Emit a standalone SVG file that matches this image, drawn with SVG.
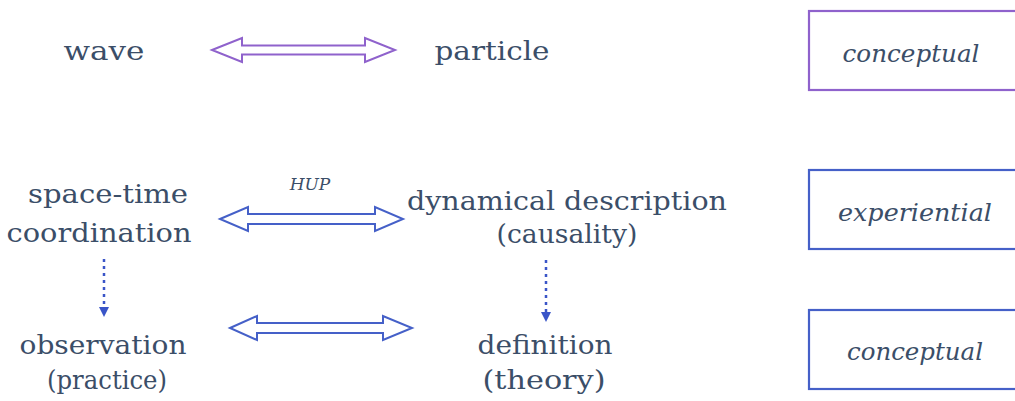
<svg xmlns="http://www.w3.org/2000/svg" width="1015" height="401" viewBox="0 0 1015 401">
<defs>
<style>
.t{font-family:"DejaVu Serif","Liberation Serif",serif;font-size:26px;fill:#3b4e68;text-anchor:middle}
.i{font-family:"DejaVu Serif","Liberation Serif",serif;font-style:italic;font-size:24px;fill:#3b4e68;text-anchor:middle}
.box{fill:#fff;stroke-width:2.2}
.dbl{fill:#fff;stroke-width:2;stroke-linejoin:miter}
.dot{stroke:#3a55c8;stroke-width:2.5;stroke-dasharray:3,4;fill:none}
.pur{stroke:#8f62cc}
.blu{stroke:#4560c8}
</style>
<marker id="ah" markerWidth="10" markerHeight="10" refX="5" refY="5" orient="auto" markerUnits="userSpaceOnUse">
<path d="M0,0 L10,5 L0,10 Z" fill="#3a55c8"/>
</marker>
</defs>
<rect width="1015" height="401" fill="#fff"/>
<g id="connectors">
<path class="dbl pur" d="M212,50 L242,38 L242,45.5 L365,45.5 L365,38 L395,50 L365,62 L365,54.5 L242,54.5 L242,62 Z"/>
<path class="dbl blu" d="M220,219 L248,207 L248,214 L375,214 L375,207 L403,219 L375,231 L375,224 L248,224 L248,231 Z"/>
<path class="dbl blu" d="M230,328 L257,316 L257,323 L383,323 L383,316 L412,328 L383,340 L383,333 L257,333 L257,340 Z"/>
<line class="dot" x1="104" y1="259" x2="104" y2="312" marker-end="url(#ah)"/>
<line class="dot" x1="546" y1="260" x2="546" y2="317" marker-end="url(#ah)"/>
<text class="i" x="310" y="190" style="font-size:17px">HUP</text>
</g>
<g id="wave"><text class="t" x="104" y="60" textLength="81" lengthAdjust="spacingAndGlyphs">wave</text></g>
<g id="particle"><text class="t" x="492" y="60" textLength="115" lengthAdjust="spacingAndGlyphs">particle</text></g>
<g id="spacetime">
<text class="t" x="108" y="203" textLength="160" lengthAdjust="spacingAndGlyphs">space-time</text>
<text class="t" x="99" y="242" textLength="185" lengthAdjust="spacingAndGlyphs">coordination</text>
</g>
<g id="dynamical">
<text class="t" x="567" y="210" textLength="320" lengthAdjust="spacingAndGlyphs">dynamical description</text>
<text class="t" x="567" y="243" textLength="141" lengthAdjust="spacingAndGlyphs">(causality)</text>
</g>
<g id="observation">
<text class="t" x="103" y="354" textLength="167" lengthAdjust="spacingAndGlyphs">observation</text>
<text class="t" x="107" y="389" textLength="120" lengthAdjust="spacingAndGlyphs">(practice)</text>
</g>
<g id="definition">
<text class="t" x="545" y="354" textLength="135" lengthAdjust="spacingAndGlyphs">definition</text>
<text class="t" x="544" y="389" textLength="123" lengthAdjust="spacingAndGlyphs">(theory)</text>
</g>
<g id="box1">
<rect class="box pur" x="809" y="11" width="300" height="79"/>
<text class="i" x="911" y="62" textLength="137" lengthAdjust="spacingAndGlyphs">conceptual</text>
</g>
<g id="box2">
<rect class="box blu" x="809" y="170" width="300" height="79"/>
<text class="i" x="915" y="221" textLength="154" lengthAdjust="spacingAndGlyphs">experiential</text>
</g>
<g id="box3">
<rect class="box blu" x="809" y="310" width="300" height="79"/>
<text class="i" x="915" y="360" textLength="136" lengthAdjust="spacingAndGlyphs">conceptual</text>
</g>
</svg>
